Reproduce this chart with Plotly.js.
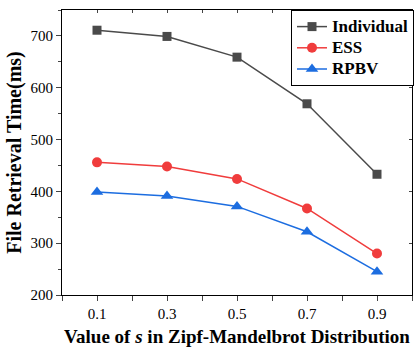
<!DOCTYPE html>
<html><head><meta charset="utf-8">
<script src="https://cdn.plot.ly/plotly-3.0.1.min.js"></script>
<style>html,body{margin:0;padding:0;background:#fff}#c{width:414px;height:347px}</style>
</head><body><div id="c"></div>
<script>
const sValues = [0.1, 0.3, 0.5, 0.7, 0.9];
const tickLabels = ['0.1', '0.3', '0.5', '0.7', '0.9'];
const seriesNames = ['Individual', 'ESS', 'RPBV'];
const individual = [711, 699, 659, 569, 433];
const ess = [456, 448, 424, 367, 280];
const rpbv = [399, 391, 371, 322, 245];

const font = 'Liberation Serif, Times New Roman, serif';
const lg = n => '<span style="font-size:17px">' + n + '</span>';
const traces = [
  {x: sValues, y: individual, name: lg(seriesNames[0]), mode: 'lines+markers',
   line: {color: '#4a4a4a', width: 1.5}, marker: {symbol: 'square', size: 9, color: '#4a4a4a'}},
  {x: sValues, y: ess, name: lg(seriesNames[1]), mode: 'lines+markers',
   line: {color: '#f03c3c', width: 1.5}, marker: {symbol: 'circle', size: 10, color: '#f03c3c'}},
  {x: sValues, y: rpbv, name: lg(seriesNames[2]), mode: 'lines+markers',
   line: {color: '#1c6de0', width: 1.5}, marker: {symbol: 'triangle-up', size: 11, color: '#1c6de0'}},
  {x: [0.5], y: [200], xaxis: 'x2', yaxis: 'y2', showlegend: false, hoverinfo: 'skip',
   mode: 'markers', marker: {opacity: 0}}
];
const layout = {
  width: 414, height: 347,
  margin: {l: 62, r: 1, t: 10, b: 52},
  paper_bgcolor: '#fff', plot_bgcolor: '#fff',
  font: {family: font, color: '#000', size: 15},
  showlegend: true,
  legend: {x: 1.003, xanchor: 'right', y: 1, yanchor: 'top', bgcolor: '#fff',
    bordercolor: '#000', borderwidth: 1, font: {family: font, size: 14, weight: 'bold'},
    tracegroupgap: 0, itemwidth: 30},
  xaxis: {range: [0, 1], tickvals: sValues, ticktext: tickLabels, ticks: 'outside', ticklen: 5,
    showline: true, linecolor: '#000', linewidth: 1, showgrid: false, zeroline: false,
    tickfont: {family: font, size: 15},
    minor: {dtick: 0.1, tick0: 0, ticks: 'outside', ticklen: 5, showgrid: false},
    title: {text: '<b>Value of <i>s</i> in Zipf-Mandelbrot Distribution</b>', font: {family: font, size: 19}, standoff: 9}},
  yaxis: {range: [200, 750], dtick: 100, tick0: 200, ticks: 'outside', ticklen: 5,
    showline: true, linecolor: '#000', linewidth: 1, showgrid: false, zeroline: false,
    tickfont: {family: font, size: 15},
    minor: {dtick: 50, tick0: 200, ticks: 'outside', ticklen: 3, showgrid: false},
    title: {text: '<b>File Retrieval Time(ms)</b>', font: {family: font, size: 20}, standoff: 3}},
  xaxis2: {overlaying: 'x', side: 'top', range: [0, 1], dtick: 0.1, tick0: 0, ticks: 'inside', ticklen: 3,
    showticklabels: false, showline: true, linecolor: '#000', linewidth: 1, showgrid: false, zeroline: false},
  yaxis2: {overlaying: 'y', side: 'right', range: [200, 750], dtick: 100, tick0: 200, ticks: 'inside', ticklen: 3,
    showticklabels: false, showline: true, linecolor: '#000', linewidth: 1, showgrid: false, zeroline: false}
};
Plotly.newPlot('c', traces, layout, {staticPlot: true});
</script></body></html>
